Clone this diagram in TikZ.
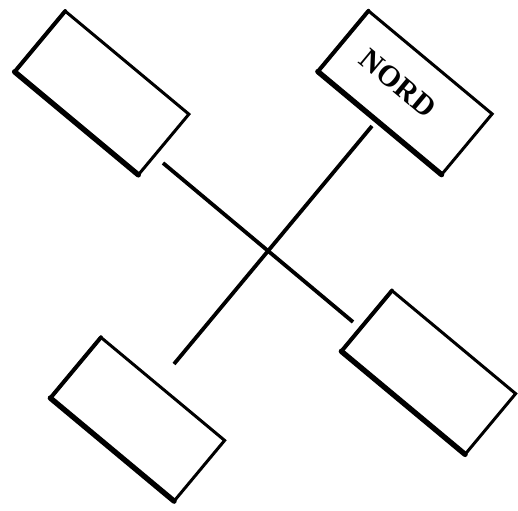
\documentclass[tikz,border=0pt]{standalone}
\usepackage{fontspec}
\setmainfont{Liberation Serif}
\usetikzlibrary{calc}
\begin{document}
\begin{tikzpicture}[x=1pt,y=1pt,
  box/.style={draw=black, line width=3pt, rotate=-39.8, minimum width=161pt, minimum height=79pt, inner sep=0pt, outer sep=0pt, line join=miter},
  shadeedge/.style={line width=5.4pt, line cap=round},
  sideedge/.style={line width=4pt, line cap=round},
  arm/.style={line width=3.8pt, line cap=butt},
  lbl/.style={rotate=-39.8, font=\fontsize{30}{30}\selectfont\bfseries, inner sep=0pt}]
\useasboundingbox (0,0) rectangle (518,510);
\node[box] (tl) at (101.75,417) {};
\node[box] (tr) at (405,417.25) {};
\node[box] (bl) at (137.5,90.75) {};
\node[box] (br) at (428.5,137.5) {};
\node[lbl] (nord) at (398,426.5) {NORD};
\foreach \n in {tl,tr,bl,br}{
  \draw[shadeedge] (\n.south west) -- (\n.south east);
  \draw[sideedge] (\n.north west) -- (\n.south west);
}
\coordinate (a1) at (163,347);
\coordinate (a2) at (353,188);
\coordinate (b1) at (372,384);
\coordinate (b2) at (174,146);
\draw[arm] (a1) -- (a2);
\draw[arm] (b1) -- (b2);
\end{tikzpicture}
\end{document}
